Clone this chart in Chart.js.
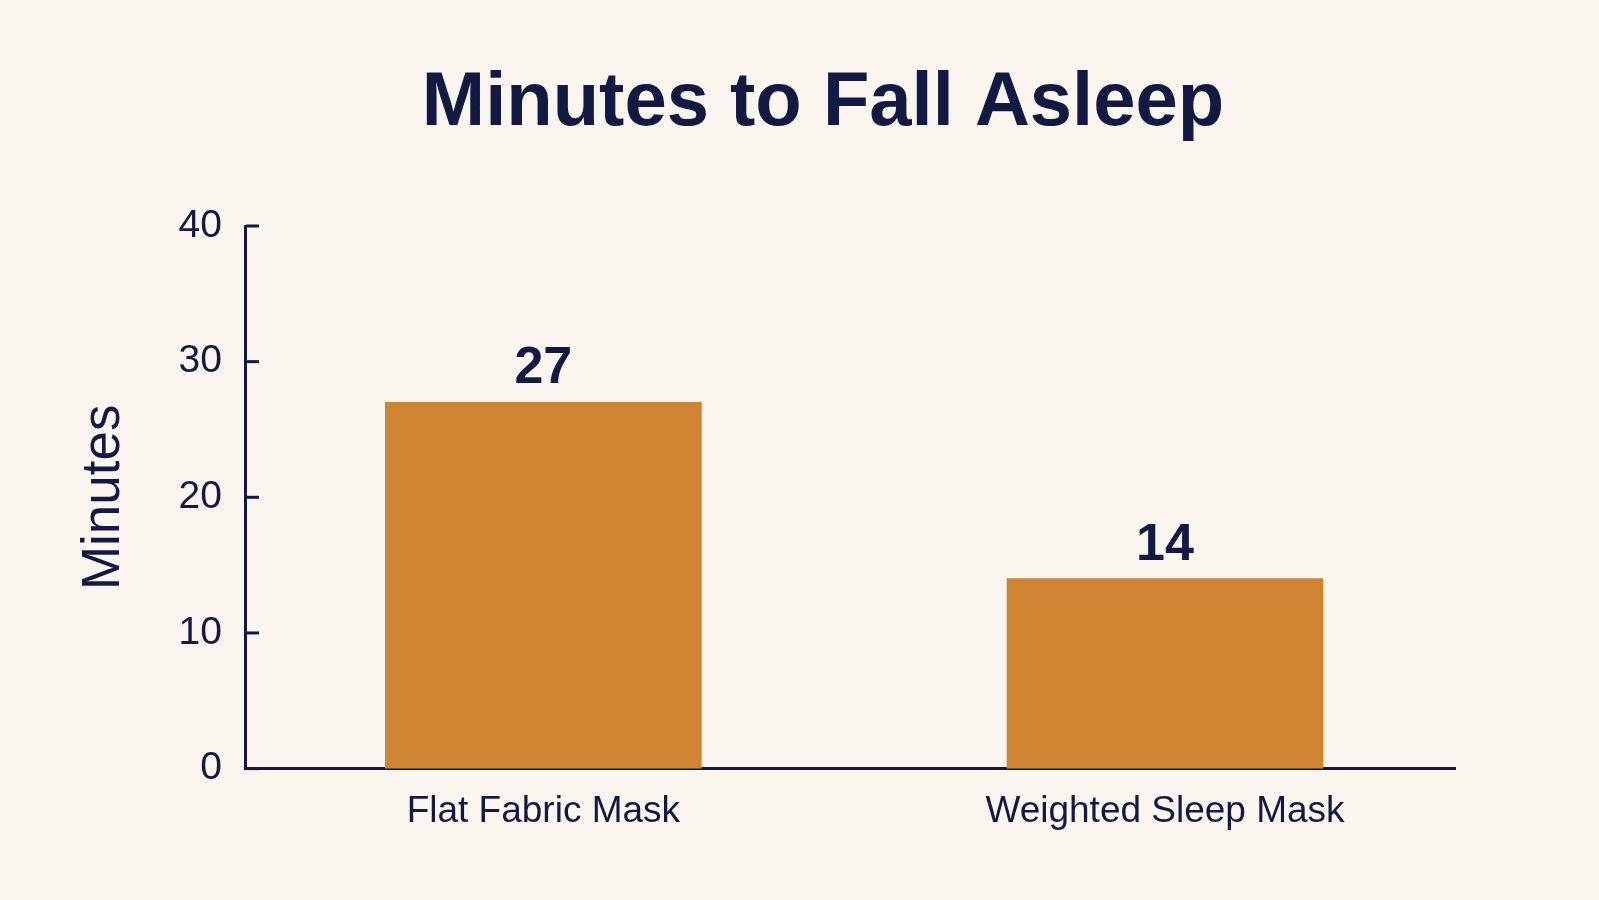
<!DOCTYPE html>
<html>
<head>
<meta charset="utf-8">
<script src="https://cdn.jsdelivr.net/npm/chart.js@4.4.0/dist/chart.umd.min.js"></script>
<style>
  html, body { margin: 0; padding: 0; background: #FAF6EF; }
  #wrap { width: 1599px; height: 900px; }
</style>
</head>
<body>
<div id="wrap"><canvas id="c" width="1599" height="900"></canvas></div>
<script>
const categories = ["Flat Fabric Mask", "Weighted Sleep Mask"];
const minutes = [27, 14];
const yTicks = [0, 10, 20, 30, 40];
const titleText = "Minutes to Fall Asleep";
const yTitle = "Minutes";

const NAVY = "#121A44";
const BAR = "#CF8434";
const FONT = "'Liberation Sans', Arial, Helvetica, sans-serif";

const innerTicks = {
  id: "innerTicks",
  afterDraw(chart) {
    const { ctx, chartArea, scales } = chart;
    const y = scales.y;
    ctx.save();
    ctx.strokeStyle = NAVY;
    ctx.lineWidth = 3;
    y.ticks.forEach((t, i) => {
      const py = y.getPixelForTick(i);
      ctx.beginPath();
      ctx.moveTo(chartArea.left, py);
      ctx.lineTo(chartArea.left + 13, py);
      ctx.stroke();
    });
    ctx.restore();
  }
};

const titleDraw = {
  id: "titleDraw",
  afterDraw(chart) {
    const { ctx } = chart;
    ctx.save();
    ctx.fillStyle = NAVY;
    ctx.font = "bold 76px " + FONT;
    ctx.textAlign = "center";
    ctx.textBaseline = "alphabetic";
    ctx.fillText(titleText, 823, 125);
    ctx.restore();
  }
};

const valueLabels = {
  id: "valueLabels",
  afterDatasetsDraw(chart) {
    const { ctx } = chart;
    const meta = chart.getDatasetMeta(0);
    ctx.save();
    ctx.fillStyle = NAVY;
    ctx.font = "bold 52px " + FONT;
    ctx.textAlign = "center";
    ctx.textBaseline = "alphabetic";
    meta.data.forEach((bar, i) => {
      ctx.fillText(String(minutes[i]), bar.x, bar.y - 19);
    });
    ctx.restore();
  }
};

new Chart(document.getElementById("c"), {
  type: "bar",
  data: {
    datasets: [{
      data: categories.map((c, i) => ({ x: i, y: minutes[i] })),
      backgroundColor: BAR,
      borderWidth: 0,
      barThickness: 316
    }]
  },
  options: {
    responsive: false,
    animation: false,
    devicePixelRatio: 1,
    layout: { padding: { left: 73, right: 144, top: 226, bottom: 45 } },
    plugins: {
      legend: { display: false },
      tooltip: { enabled: false },
      title: { display: false }
    },
    scales: {
      x: {
        type: "linear",
        offset: false,
        min: -0.4784,
        max: 1.4665,
        afterBuildTicks(scale) {
          scale.ticks = categories.map((c, i) => ({ value: i }));
        },
        ticks: {
          color: NAVY,
          font: { family: FONT, size: 37 },
          padding: 21,
          autoSkip: false,
          maxRotation: 0,
          callback: (v) => categories[v]
        },
        grid: { display: false, drawTicks: false, offset: false },
        border: { display: true, color: NAVY, width: 3 }
      },
      y: {
        min: 0,
        max: 40,
        afterBuildTicks(scale) {
          scale.ticks = yTicks.map(v => ({ value: v }));
        },
        ticks: {
          color: NAVY,
          font: { family: FONT, size: 39 },
          padding: 24
        },
        grid: { display: false, drawTicks: false },
        border: { display: true, color: NAVY, width: 3 },
        title: {
          display: true,
          text: yTitle,
          color: NAVY,
          font: { family: FONT, size: 53 },
          padding: { top: 0, bottom: 18 }
        }
      }
    }
  },
  plugins: [innerTicks, valueLabels, titleDraw]
});
</script>
</body>
</html>
